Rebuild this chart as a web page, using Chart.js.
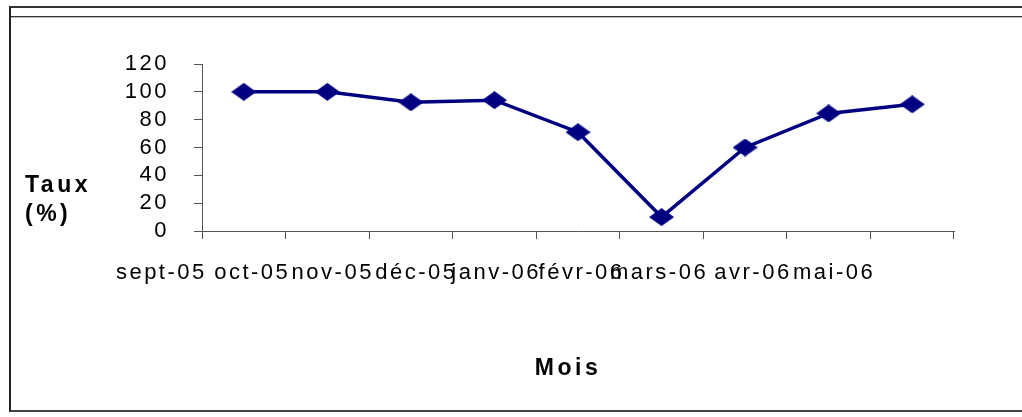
<!DOCTYPE html>
<html lang="fr">
<head>
<meta charset="UTF-8">
<script src="https://cdn.jsdelivr.net/npm/chart.js"></script>
<style>
  body { margin: 0; background: #fff; overflow: hidden; width: 1022px; height: 417px; position: relative; }
  #cadre { position: absolute; left: 9px; top: 6px; width: 1100px; height: 402px;
           border-top: 2px solid #333; border-left: 2px solid #222; border-bottom: 2px solid #444; }
  #filet { position: absolute; left: 11px; top: 16px; width: 1100px; border-top: 1px solid #333; border-bottom: 1px solid #bbb; }
  #zone { position: absolute; left: 11px; top: 18px; width: 1011px; height: 392px; }
</style>
</head>
<body>
<div id="cadre"></div>
<div id="filet"></div>
<div id="zone"><canvas id="myChart"></canvas></div>
<script>
// donnees
var mois = ['sept-05', 'oct-05', 'nov-05', 'déc-05', 'janv-06', 'févr-06', 'mars-06', 'avr-06', 'mai-06'];
var taux = [100, 100, 92.5, 94, 71, 10, 60, 84.5, 91];
var yMin = 0, yMax = 120, yPas = 20;
var titreY = ['Taux', '(%)'];
var titreX = 'Mois';

Chart.defaults.font.family = '"Liberation Sans", Arial, sans-serif';
Chart.defaults.font.size = 22;
Chart.defaults.color = '#000';

// losange un peu plus large que haut, comme dans Excel
var losange = document.createElement('canvas');
losange.width = 25;
losange.height = 18;
var lc = losange.getContext('2d');
lc.fillStyle = '#000080';
lc.beginPath();
lc.moveTo(12.5, 0); lc.lineTo(25, 9); lc.lineTo(12.5, 18); lc.lineTo(0, 9);
lc.closePath();
lc.fill();

// espacement des lettres + titres des axes (non pivotes)
var ESP = '2.5px';
var textes = {
  id: 'textes',
  beforeUpdate: function (chart) { chart.ctx.letterSpacing = ESP; },
  beforeLayout: function (chart) { chart.ctx.letterSpacing = ESP; },
  beforeDraw: function (chart) { chart.ctx.letterSpacing = ESP; },
  afterDraw: function (chart) {
    var ctx = chart.ctx, a = chart.chartArea;
    ctx.save();
    ctx.letterSpacing = '3.5px';
    ctx.font = 'bold 23px "Liberation Sans", Arial, sans-serif';
    ctx.fillStyle = '#000';
    ctx.textBaseline = 'middle';
    ctx.textAlign = 'left';
    ctx.fillText(titreY[0], 14, 168);
    ctx.fillText(titreY[1], 14, 197);
    ctx.textAlign = 'center';
    ctx.fillText(titreX, (a.left + a.right) / 2 - 10, a.bottom + 138);
    ctx.restore();
  }
};

var ctx = document.getElementById('myChart').getContext('2d');
var myChart = new Chart(ctx, {
  type: 'line',
  data: {
    labels: mois,
    datasets: [{
      data: taux,
      borderColor: '#000080',
      borderWidth: 3.5,
      tension: 0,
      pointStyle: losange,
      pointRadius: 10,
      pointBackgroundColor: '#000080',
      pointBorderColor: '#000080'
    }]
  },
  options: {
    responsive: true,
    maintainAspectRatio: false,
    animation: false,
    layout: { padding: { top: 46, right: 68, left: 0, bottom: 0 } },
    plugins: { legend: { display: false }, tooltip: { enabled: false } },
    scales: {
      x: {
        offset: true,
        grid: { drawOnChartArea: false, drawTicks: true, tickLength: 8, color: '#555', offset: true },
        border: { color: '#555', width: 1 },
        ticks: { align: 'end', labelOffset: -37, padding: 21, maxRotation: 0, autoSkip: false },
        afterFit: function (s) { s.height = 179; }
      },
      y: {
        min: yMin,
        max: yMax,
        ticks: { stepSize: yPas, padding: 25, autoSkip: false },
        grid: { drawOnChartArea: false, drawTicks: true, tickLength: 8, color: '#555' },
        border: { color: '#555', width: 1 },
        afterFit: function (s) { s.width = 191; }
      }
    }
  },
  plugins: [textes]
});
</script>
</body>
</html>
